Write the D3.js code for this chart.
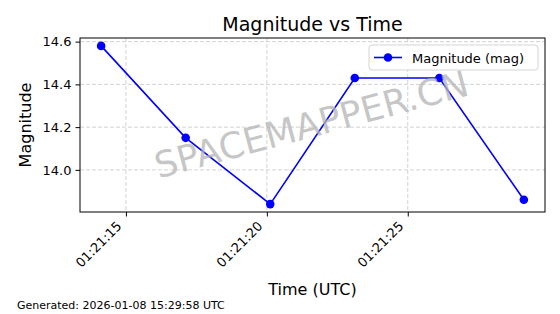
<!DOCTYPE html>
<html>
<head>
<meta charset="utf-8">
<script src="https://cdn.jsdelivr.net/npm/d3@7"></script>
<style>
  html, body { margin: 0; padding: 0; background: #fff; }
  text { font-family: "DejaVu Sans", sans-serif; }
</style>
</head>
<body>
<div id="chart"></div>
<script>
(function() {
  'use strict';

  // Observation times (UTC) and magnitudes
  var times = ['01:21:14.12', '01:21:17.12', '01:21:20.12', '01:21:23.12', '01:21:26.12', '01:21:29.12'];
  var magnitudes = [14.58, 14.15, 13.84, 14.43, 14.43, 13.86];
  var yTicks = [14.0, 14.2, 14.4, 14.6];
  var xTickLabels = ['01:21:15', '01:21:20', '01:21:25'];
  var seriesName = 'Magnitude (mag)';
  var footer = 'Generated: 2026-01-08 15:29:58 UTC';

  var width = 560, height = 314;
  var margin = { top: 38, right: 15, bottom: 102, left: 80 };
  var plotW = width - margin.left - margin.right;
  var plotH = height - margin.top - margin.bottom;

  var parseTime = d3.utcParse('%Y-%m-%d %H:%M:%S.%L');
  var toDate = function(t) { return parseTime('2026-01-08 ' + (t.indexOf('.') < 0 ? t + '.000' : t + '0')); };

  var data = times.map(function(t, i) { return { t: toDate(t), v: magnitudes[i] }; });

  // matplotlib-like 5% padding around data
  var tExt = d3.extent(data, function(d) { return +d.t; });
  var tPad = (tExt[1] - tExt[0]) * 0.05;
  var vExt = d3.extent(magnitudes);
  var vPad = (vExt[1] - vExt[0]) * 0.05;

  var x = d3.scaleUtc()
    .domain([new Date(tExt[0] - tPad), new Date(tExt[1] + tPad)])
    .range([0, plotW]);
  var y = d3.scaleLinear()
    .domain([vExt[0] - vPad, vExt[1] + vPad])
    .range([plotH, 0]);

  var xTicks = xTickLabels.map(function(s) { return parseTime('2026-01-08 ' + s + '.000'); });

  var svg = d3.select('#chart').append('svg')
    .attr('width', width)
    .attr('height', height);

  svg.append('rect').attr('width', width).attr('height', height).attr('fill', '#fff');

  var g = svg.append('g').attr('transform', 'translate(' + margin.left + ',' + margin.top + ')');

  // Grid
  g.append('g').selectAll('line').data(yTicks).enter().append('line')
    .attr('x1', 0).attr('x2', plotW)
    .attr('y1', function(d) { return y(d); }).attr('y2', function(d) { return y(d); })
    .attr('stroke', '#c8c8c8').attr('stroke-width', 0.8).attr('stroke-dasharray', '4,2');
  g.append('g').selectAll('line').data(xTicks).enter().append('line')
    .attr('y1', 0).attr('y2', plotH)
    .attr('x1', function(d) { return x(d); }).attr('x2', function(d) { return x(d); })
    .attr('stroke', '#c8c8c8').attr('stroke-width', 0.8).attr('stroke-dasharray', '4,2');

  // Watermark
  svg.append('text')
    .attr('transform', 'translate(312,127) rotate(-15)')
    .attr('text-anchor', 'middle')
    .attr('dominant-baseline', 'middle')
    .attr('font-size', 36)
    .attr('fill', '#b4b4b4')
    .attr('fill-opacity', 0.75)
    .text('SPACEMAPPER.CN');

  // Series
  var line = d3.line()
    .x(function(d) { return x(d.t); })
    .y(function(d) { return y(d.v); });

  g.append('path').datum(data)
    .attr('d', line)
    .attr('fill', 'none')
    .attr('stroke', '#0000ff')
    .attr('stroke-width', 1.6);

  g.selectAll('.pt').data(data).enter().append('circle')
    .attr('class', 'pt')
    .attr('cx', function(d) { return x(d.t); })
    .attr('cy', function(d) { return y(d.v); })
    .attr('r', 4.3)
    .attr('fill', '#0000ff');

  // Axes
  var yAxis = d3.axisLeft(y).tickValues(yTicks).tickFormat(d3.format('.1f')).tickSize(4.5).tickPadding(4);
  var yG = g.append('g').call(yAxis);
  yG.select('.domain').remove();
  yG.selectAll('text').attr('font-size', 13).attr('fill', '#000').attr('font-family', 'DejaVu Sans');

  var xAxis = d3.axisBottom(x).tickValues(xTicks).tickFormat(d3.utcFormat('%H:%M:%S')).tickSize(4.5);
  var xG = g.append('g').attr('transform', 'translate(0,' + plotH + ')').call(xAxis);
  xG.select('.domain').remove();
  xG.selectAll('text')
    .attr('font-size', 13).attr('fill', '#000').attr('font-family', 'DejaVu Sans')
    .attr('text-anchor', 'end')
    .attr('dy', 0)
    .attr('transform', 'translate(-4,15) rotate(-45)')
    .attr('y', 0).attr('x', 0);

  g.append('rect')
    .attr('width', plotW).attr('height', plotH)
    .attr('fill', 'none').attr('stroke', '#000').attr('stroke-width', 1);

  // Title and labels
  svg.append('text')
    .attr('x', margin.left + plotW / 2).attr('y', 31)
    .attr('text-anchor', 'middle').attr('font-size', 19)
    .text('Magnitude vs Time');

  svg.append('text')
    .attr('transform', 'translate(31,' + (margin.top + plotH / 2) + ') rotate(-90)')
    .attr('text-anchor', 'middle').attr('font-size', 16)
    .text('Magnitude');

  svg.append('text')
    .attr('x', margin.left + plotW / 2).attr('y', 295)
    .attr('text-anchor', 'middle').attr('font-size', 16)
    .text('Time (UTC)');

  svg.append('text')
    .attr('x', 17).attr('y', 309)
    .attr('font-size', 11)
    .text(footer);

  // Legend
  var lg = svg.append('g').attr('transform', 'translate(369,45)');
  lg.append('rect')
    .attr('width', 169).attr('height', 25).attr('rx', 3)
    .attr('fill', '#fff').attr('fill-opacity', 0.8)
    .attr('stroke', '#d4d4d4').attr('stroke-width', 1);
  lg.append('line')
    .attr('x1', 5).attr('x2', 33).attr('y1', 12.5).attr('y2', 12.5)
    .attr('stroke', '#0000ff').attr('stroke-width', 1.6);
  lg.append('circle').attr('cx', 19).attr('cy', 12.5).attr('r', 4.3).attr('fill', '#0000ff');
  lg.append('text')
    .attr('x', 43).attr('y', 17.5)
    .attr('font-size', 13)
    .text(seriesName);
})();
</script>
</body>
</html>
